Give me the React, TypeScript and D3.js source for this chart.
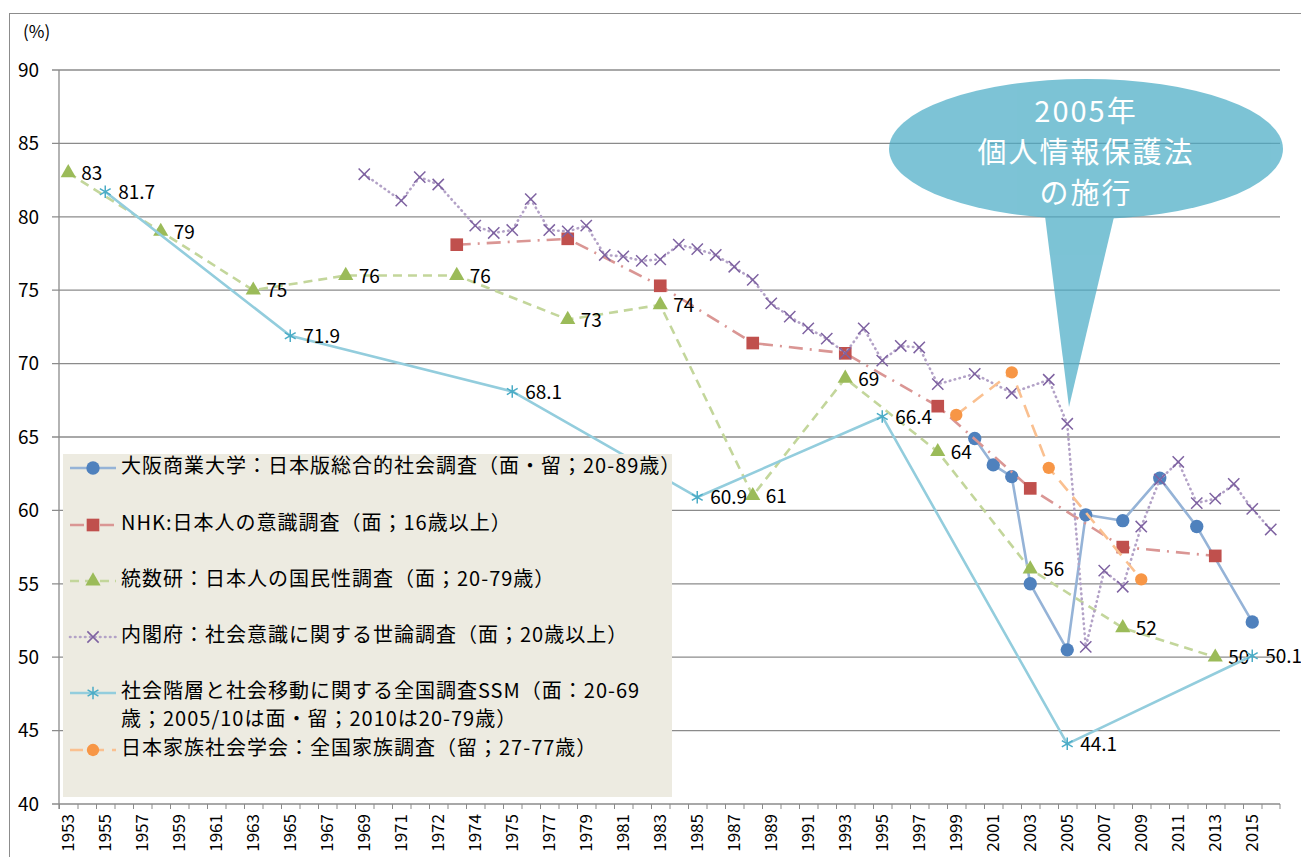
import * as d3 from "d3";

// カテゴリ（年）。非表示ラベルの重複年は "b" 付き
const categories = [
  "1953", "1954", "1955", "1956", "1957", "1958", "1959", "1960", "1961", "1962",
  "1963", "1964", "1965", "1966", "1967", "1968", "1969", "1970", "1971", "1971b",
  "1972", "1973", "1974", "1974b", "1975", "1976", "1977", "1978", "1979", "1980",
  "1981", "1982", "1983", "1984", "1985", "1986", "1987", "1988", "1989", "1990",
  "1991", "1992", "1993", "1994", "1995", "1996", "1997", "1998", "1999", "2000",
  "2001", "2002", "2003", "2004", "2005", "2006", "2007", "2008", "2009", "2010",
  "2011", "2012", "2013", "2014", "2015", "2016",
];
const yTicks = [40, 45, 50, 55, 60, 65, 70, 75, 80, 85, 90];

// 大阪商業大学 JGSS
const jgssYears = ["2000", "2001", "2002", "2003", "2005", "2006", "2008", "2010", "2012", "2015"];
const jgssValues = [64.9, 63.1, 62.3, 55.0, 50.5, 59.7, 59.3, 62.2, 58.9, 52.4];

// NHK 日本人の意識調査
const nhkYears = ["1973", "1978", "1983", "1988", "1993", "1998", "2003", "2008", "2013"];
const nhkValues = [78.1, 78.5, 75.3, 71.4, 70.7, 67.1, 61.5, 57.5, 56.9];

// 統数研 国民性調査
const ismYears = ["1953", "1958", "1963", "1968", "1973", "1978", "1983", "1988", "1993", "1998", "2003", "2008", "2013"];
const ismValues = [83, 79, 75, 76, 76, 73, 74, 61, 69, 64, 56, 52, 50];

// 内閣府 社会意識に関する世論調査
const cabYears = [
  "1969", "1971", "1971b", "1972", "1974", "1974b", "1975", "1976", "1977", "1978",
  "1979", "1980", "1981", "1982", "1983", "1984", "1985", "1986", "1987", "1988",
  "1989", "1990", "1991", "1992", "1993", "1994", "1995", "1996", "1997", "1998",
  "2000", "2002", "2004", "2005", "2006", "2007", "2008", "2009", "2010", "2011",
  "2012", "2013", "2014", "2015", "2016",
];
const cabValues = [
  82.9, 81.1, 82.7, 82.2, 79.4, 78.9, 79.1, 81.2, 79.1, 79.0,
  79.4, 77.4, 77.3, 77.0, 77.1, 78.1, 77.8, 77.4, 76.6, 75.7,
  74.1, 73.2, 72.4, 71.7, 70.7, 72.4, 70.2, 71.2, 71.1, 68.6,
  69.3, 68.0, 68.9, 65.9, 50.7, 55.9, 54.8, 58.9, 62.1, 63.3,
  60.5, 60.8, 61.8, 60.1, 58.7,
];

// SSM
const ssmYears = ["1955", "1965", "1975", "1985", "1995", "2005", "2015"];
const ssmValues = [81.7, 71.9, 68.1, 60.9, 66.4, 44.1, 50.1];

// 日本家族社会学会 NFRJ
const nfrjYears = ["1999", "2002", "2004", "2009"];
const nfrjValues = [66.5, 69.4, 62.9, 55.3];

const legendLabels = [
  ["大阪商業大学：日本版総合的社会調査（面・留；20-89歳）"],
  ["NHK:日本人の意識調査（面；16歳以上）"],
  ["統数研：日本人の国民性調査（面；20-79歳）"],
  ["内閣府：社会意識に関する世論調査（面；20歳以上）"],
  ["社会階層と社会移動に関する全国調査SSM（面：20-69", "歳；2005/10は面・留；2010は20-79歳）"],
  ["日本家族社会学会：全国家族調査（留；27-77歳）"],
];

const calloutLines = ["2005年", "個人情報保護法", "の施行"];

const FONT = "'Noto Sans CJK JP', 'Noto Sans', sans-serif";

type Series = {
  years: string[];
  values: number[];
  line: string;
  dash: string | null;
  cap: "butt" | "round";
  marker: d3.SymbolType;
  size: number;
  color: string;
  stroke: boolean;
  labels: boolean;
};

const series: Series[] = [
  { years: jgssYears, values: jgssValues, line: "#95B3D7", dash: null, cap: "butt", marker: d3.symbolCircle, size: 140, color: "#4F81BD", stroke: false, labels: false },
  { years: nhkYears, values: nhkValues, line: "#DA9694", dash: "14,7,2,7", cap: "butt", marker: d3.symbolSquare, size: 160, color: "#C0504D", stroke: false, labels: false },
  { years: ismYears, values: ismValues, line: "#C3D69B", dash: "9,6", cap: "butt", marker: d3.symbolTriangle, size: 100, color: "#9BBB59", stroke: false, labels: true },
  { years: cabYears, values: cabValues, line: "#B3A2C7", dash: "0.5,4.5", cap: "round", marker: d3.symbolTimes, size: 85, color: "#7E62A1", stroke: true, labels: false },
  { years: ssmYears, values: ssmValues, line: "#93CDDD", dash: null, cap: "butt", marker: d3.symbolAsterisk, size: 110, color: "#4BACC6", stroke: true, labels: true },
  { years: nfrjYears, values: nfrjValues, line: "#FAC090", dash: "13,8", cap: "butt", marker: d3.symbolCircle, size: 120, color: "#F79646", stroke: false, labels: false },
];

export default function App() {
  const W = 1301;
  const H = 857;
  const left = 59, right = 1280, top = 70, bottom = 804;

  const x = d3.scaleBand<string>().domain(categories).range([left, right]);
  const cx = (c: string) => (x(c) ?? 0) + x.bandwidth() / 2;
  const y = d3.scaleLinear().domain([40, 90]).range([bottom, top]);

  const line = d3
    .line<[string, number]>()
    .x((d) => cx(d[0]))
    .y((d) => y(d[1]));

  const markerPath = (s: Series) => d3.symbol(s.marker, s.size)() ?? "";

  const drawMarker = (s: Series, tx: number, ty: number, key: string) =>
    s.stroke ? (
      <path key={key} d={markerPath(s)} transform={`translate(${tx},${ty})`} fill="none" stroke={s.color} strokeWidth={1.5} />
    ) : (
      <path key={key} d={markerPath(s)} transform={`translate(${tx},${ty})`} fill={s.color} />
    );

  // 吹き出し
  const ell = { cx: 1086, cy: 149, rx: 197, ry: 70 };
  const tailPath = d3.path();
  tailPath.moveTo(1043, 200);
  tailPath.lineTo(1118, 200);
  tailPath.lineTo(1069, 407);
  tailPath.closePath();

  const legendY = [466, 523, 579, 635, 691, 748];

  return (
    <svg width={W} height={H} style={{ position: "absolute", left: 0, top: 0, background: "#fff" }} fontFamily={FONT}>
      <rect x={9.5} y={13.5} width={1300} height={900} fill="#fff" stroke="#8C8C8C" strokeWidth={1} />
      <text x={23} y={38} fontSize={17} fill="#000">(%)</text>

      {/* grid + y axis */}
      {yTicks.map((t) => (
        <g key={t}>
          <line x1={52} x2={right} y1={y(t)} y2={y(t)} stroke="#8B8B8B" strokeWidth={1.3} />
          <text x={39} y={y(t)} dy="0.36em" textAnchor="end" fontSize={19} fill="#000">{t}</text>
        </g>
      ))}
      <line x1={left} x2={left} y1={top} y2={bottom + 5} stroke="#8B8B8B" strokeWidth={1.3} />

      {/* x axis */}
      {categories.map((c) => (
        <line key={"tk" + c} x1={(x(c) ?? 0) + 0.5} x2={(x(c) ?? 0) + 0.5} y1={bottom} y2={bottom + 5} stroke="#8B8B8B" strokeWidth={1} />
      ))}
      <line x1={right} x2={right} y1={bottom} y2={bottom + 5} stroke="#8B8B8B" strokeWidth={1} />
      {categories.map((c, i) =>
        i % 2 === 0 ? (
          <text key={"lb" + c} transform={`translate(${cx(c)},${bottom + 10}) rotate(-90)`} dy="0.36em" textAnchor="end" fontSize={17} fill="#000">
            {c.replace("b", "")}
          </text>
        ) : null
      )}

      {/* series */}
      {series.map((s, si) => {
        const pts = s.years.map((yr, k) => [yr, s.values[k]] as [string, number]);
        return (
          <g key={si}>
            <path
              d={line(pts) ?? ""}
              fill="none"
              stroke={s.line}
              strokeWidth={2.6}
              strokeDasharray={s.dash ?? undefined}
              strokeLinecap={s.cap}
              strokeLinejoin="round"
            />
            {pts.map((p, k) => drawMarker(s, cx(p[0]), y(p[1]), "m" + k))}
            {s.labels &&
              pts.map((p, k) => (
                <text key={"t" + k} x={cx(p[0]) + 13} y={y(p[1])} dy="0.38em" fontSize={19} fill="#000">
                  {String(p[1])}
                </text>
              ))}
          </g>
        );
      })}

      {/* legend */}
      <rect x={63} y={454} width={609} height={343} fill="#EDEBE1" />
      {series.map((s, i) => (
        <g key={"lg" + i}>
          <line
            x1={70}
            x2={116}
            y1={legendY[i] + 2}
            y2={legendY[i] + 2}
            stroke={s.line}
            strokeWidth={2.6}
            strokeDasharray={s.dash ?? undefined}
            strokeLinecap={s.cap}
          />
          {drawMarker(s, 93, legendY[i] + 2, "lm" + i)}
          {legendLabels[i].map((t, j) => (
            <text key={j} x={121} y={legendY[i] + j * 28} dy="0.36em" fontSize={20} letterSpacing={1} fill="#000">
              {t}
            </text>
          ))}
        </g>
      ))}

      {/* callout */}
      <g opacity={0.72}>
        <ellipse cx={ell.cx} cy={ell.cy} rx={ell.rx} ry={ell.ry} fill="#4BACC6" />
        <path d={tailPath.toString()} fill="#4BACC6" />
      </g>
      {calloutLines.map((t, i) => (
        <text key={"c" + i} x={1086} y={122 + i * 41} textAnchor="middle" fontSize={29} letterSpacing={2} fill="#fff">
          {t}
        </text>
      ))}
    </svg>
  );
}
